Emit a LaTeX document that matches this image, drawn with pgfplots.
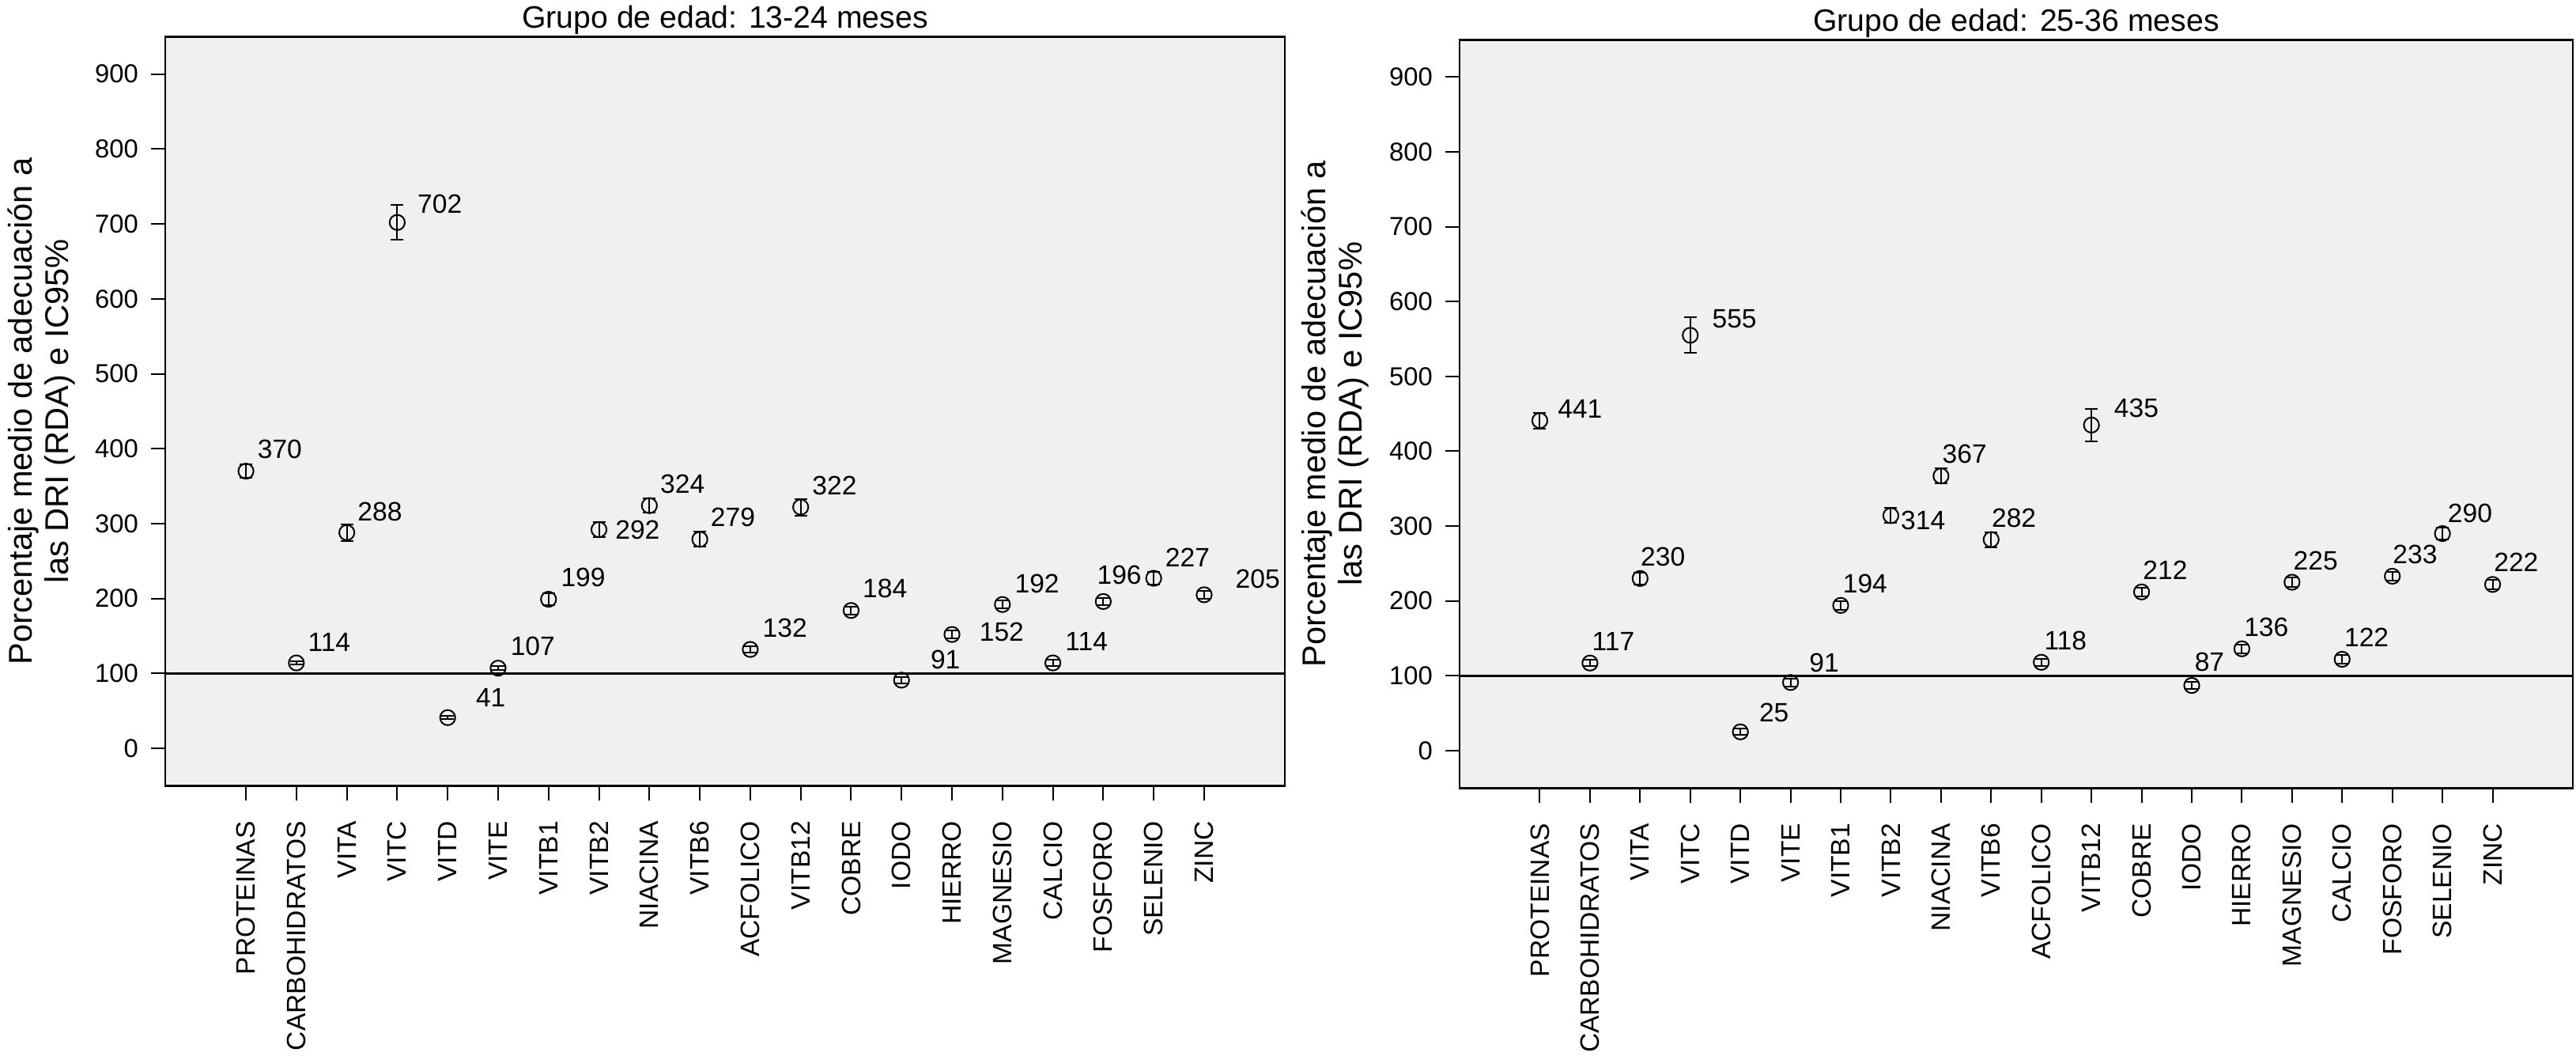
\documentclass[border=0pt]{standalone}
\usepackage{fontspec}
\setmainfont{Liberation Sans}
\usepackage{pgfplots}
\pgfplotsset{compat=1.18}
\usepackage{pgfplotstable}
\definecolor{bgray}{RGB}{240,240,240}

% x: category index, y: mean, e: half CI, lab: label, lx/ly: label anchor (data units)
\pgfplotstableread{
x y e lab lx ly
0 370 9 370 0.219 386.9
1 114 2 114 1.219 129.8
2 288 11 288 2.204 303.8
3 702 23.5 702 3.392 714.7
4 41 2 41 4.549 55.4
5 107 2.5 107 5.235 123.9
6 199 8 199 6.235 215.9
7 292 10 292 7.314 279.3
8 324 9.5 324 8.204 340.9
9 279 10 279 9.204 295.9
10 132 4 132 10.235 148.9
11 322 11 322 11.219 338.9
12 184 5 184 12.219 200.9
13 91 4 91 13.564 105.8
14 152 5 152 14.533 143.6
15 192 5 192 15.235 207.8
16 114 4 114 16.235 130.9
17 196 5 196 16.865 219.2
18 227 8.5 227 18.219 242.8
19 205 5 205 19.611 213.5
}\tabA

\pgfplotstableread{
x y e lab lx ly
0 441 10.5 441 0.347 444.2
1 117 4 117 1.032 133.9
2 230 8 230 2.0 246.9
3 555 23.8 555 3.426 564.5
4 25 4 25 4.363 38.7
5 91 5 91 5.363 104.7
6 194 6 194 6.032 210.9
7 314 10 314 7.189 295.0
8 367 10 367 8.016 383.9
9 282 10 282 9.0 298.9
10 118 5 118 10.047 134.9
11 435 21.5 435 11.442 445.6
12 212 6 212 12.016 228.9
13 87 5 87 13.047 106.0
14 136 6 136 14.032 152.9
15 225 6 225 15.016 241.9
16 122 6 122 16.032 138.9
17 233 6 233 17.0 249.9
18 290 8 290 18.095 304.8
19 222 6 222 19.016 238.9
}\tabB

\pgfplotsset{
  mystyle/.style={
    scale only axis,
    xmin=-1.6, xmax=20.6, ymin=-50, ymax=950,
    axis background/.style={fill=bgray},
    axis line style={line width=0.7pt},
    xtick={0,...,19},
    xticklabels={PROTEINAS,CARBOHIDRATOS,VITA,VITC,VITD,VITE,VITB1,VITB2,NIACINA,VITB6,ACFOLICO,VITB12,COBRE,IODO,HIERRO,MAGNESIO,CALCIO,FOSFORO,SELENIO,ZINC},
    ytick={0,100,...,900},
    tick align=outside, tick pos=left,
    major tick length=4.6pt,
    tick style={line width=0.5pt, black},
    xticklabel style={rotate=90, anchor=east, inner sep=0pt, font=\fontsize{8.4}{10}\selectfont},
    xticklabel shift=6.4pt,
    yticklabel style={anchor=east, inner sep=0pt, font=\fontsize{8.2}{10}\selectfont},
    yticklabel shift=3.75pt,
    /pgf/number format/assume math mode=true,
    title style={font=\fontsize{9.8}{12}\selectfont, anchor=base, at={(0.5,1)}, yshift=-3.3pt, inner sep=0pt},
    ylabel style={font=\fontsize{10.4}{11.5}\selectfont, align=center, inner sep=0pt, anchor=south},
    ylabel={Porcentaje medio de adecuación a\\las DRI (RDA) e IC95\%},
    clip=false,
  },
  myplot/.style={
    black, only marks, mark=o, mark size=2.4pt,
    mark options={line width=0.5pt},
    error bars/.cd, y dir=both, y explicit,
      error bar style={line width=0.5pt},
      error mark options={rotate=90, mark size=2pt, line width=0.5pt},
  },
  mylabels/.style={
    only marks, mark=*, mark size=0pt, mark options={draw=none, fill=none},
    point meta=explicit symbolic,
    nodes near coords,
    nodes near coords style={anchor=base west, inner sep=0pt, text=black,
      font=\fontsize{8.4}{10}\selectfont},
  },
}

\begin{document}
\begin{tikzpicture}
\useasboundingbox (0,0) rectangle (814.5pt,333.75pt);
\begin{axis}[mystyle, at={(52.25pt,85.4pt)}, anchor=south west,
  width=354pt, height=236.75pt,
  title={Grupo de edad: 13-24 meses},
  ylabel style={at={(axis description cs:-0.080,0.5)}}]
\addplot[black, line width=0.8pt, forget plot] coordinates {(-1.6,100) (20.6,100)};
\addplot[myplot] table[x=x, y=y, y error=e] {\tabA};
\addplot[mylabels] table[x=lx, y=ly, meta=lab] {\tabA};
\end{axis}
\begin{axis}[mystyle, at={(461.5pt,84.7pt)}, anchor=south west,
  width=352pt, height=236.5pt,
  title={Grupo de edad: 25-36 meses},
  ylabel style={at={(axis description cs:-0.081,0.5)}}]
\addplot[black, line width=0.8pt, forget plot] coordinates {(-1.6,100) (20.6,100)};
\addplot[myplot] table[x=x, y=y, y error=e] {\tabB};
\addplot[mylabels] table[x=lx, y=ly, meta=lab] {\tabB};
\end{axis}
\end{tikzpicture}
\end{document}
